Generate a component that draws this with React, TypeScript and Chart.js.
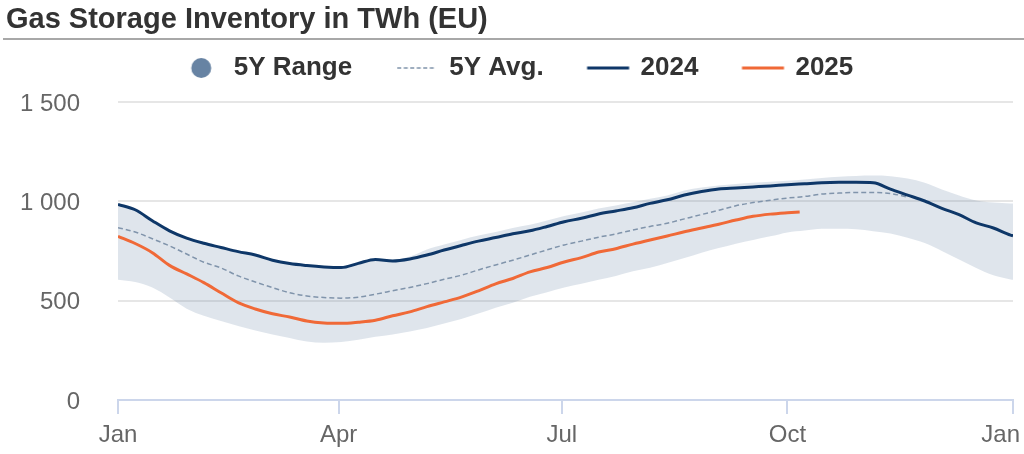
import { useEffect, useRef } from 'react';
import { Chart, registerables } from 'chart.js';

Chart.register(...registerables);

const FONT = '"Liberation Sans", Arial, Helvetica, sans-serif';

const TITLE = 'Gas Storage Inventory in TWh (EU)';
const LEGEND_NAMES = ['5Y Range', '5Y Avg.', '2024', '2025'];

const X_TICK_DAYS = [0, 90, 181, 273, 365];
const X_TICK_LABELS = ['Jan', 'Apr', 'Jul', 'Oct', 'Jan'];
const Y_TICKS = [0, 500, 1000, 1500];
const Y_MAX = 1556;

// day of year
const FULL_DAYS = [0, 7, 14, 21, 28, 35, 42, 49, 56, 63, 70, 77, 84, 91, 98, 105, 112, 119, 126, 133, 140, 147, 154, 161, 168, 175, 182, 189, 196, 203, 210, 217, 224, 231, 238, 245, 252, 259, 266, 273, 280, 287, 294, 301, 308, 315, 322, 329, 336, 343, 350, 357, 364, 365];

const RANGE_LOW = [605, 594, 566, 516, 460, 424, 398, 373, 350, 330, 312, 294, 288, 292, 304, 318, 330, 345, 362, 385, 408, 435, 465, 490, 520, 543, 566, 585, 605, 625, 648, 666, 690, 715, 742, 765, 787, 806, 824, 844, 853, 862, 862, 860, 850, 838, 817, 790, 750, 708, 665, 628, 607, 605];

const RANGE_HIGH = [990, 962, 908, 857, 820, 794, 773, 752, 735, 709, 692, 682, 675, 672, 692, 712, 706, 722, 758, 783, 806, 828, 846, 866, 882, 904, 926, 944, 964, 980, 996, 1014, 1030, 1055, 1070, 1080, 1088, 1094, 1099, 1104, 1110, 1118, 1124, 1128, 1130, 1127, 1115, 1094, 1060, 1030, 1004, 994, 990, 990];

const VALUES_2024 = [985, 958, 903, 852, 815, 789, 768, 747, 730, 704, 687, 677, 670, 667, 688, 708, 700, 710, 730, 755, 778, 800, 818, 837, 852, 874, 898, 915, 937, 952, 968, 990, 1008, 1032, 1050, 1063, 1068, 1073, 1078, 1084, 1089, 1094, 1096, 1096, 1094, 1062, 1032, 1002, 965, 933, 892, 866, 830, 827];

const AVG_DAYS = [0, 7, 14, 21, 28, 35, 42, 49, 56, 63, 70, 77, 84, 91, 98, 105, 112, 119, 126, 133, 140, 147, 154, 161, 168, 175, 182, 189, 196, 203, 210, 217, 224, 231, 238, 245, 252, 259, 266, 273, 280, 287, 294, 301, 308, 315, 322];

const AVG_5Y = [868, 846, 812, 776, 735, 694, 665, 625, 594, 566, 540, 524, 516, 513, 518, 533, 550, 567, 586, 608, 628, 655, 680, 704, 730, 756, 781, 800, 820, 836, 856, 874, 890, 912, 934, 955, 978, 994, 1006, 1017, 1025, 1037, 1042, 1045, 1045, 1040, 1022];

const DAYS_2025 = [0, 7, 14, 21, 28, 35, 42, 49, 56, 63, 70, 77, 84, 91, 98, 105, 112, 119, 126, 133, 140, 147, 154, 161, 168, 175, 182, 189, 196, 203, 210, 217, 224, 231, 238, 245, 252, 259, 266, 273, 278];

const VALUES_2025 = [824, 788, 742, 678, 635, 591, 540, 490, 458, 434, 418, 398, 388, 386, 392, 402, 424, 444, 470, 494, 518, 550, 585, 612, 645, 667, 695, 717, 745, 762, 785, 806, 826, 847, 866, 885, 906, 925, 936, 943, 947];

const COLOR_2024 = '#0e3768';
const COLOR_2025 = '#f06937';
const COLOR_AVG = '#8094ab';
const COLOR_RANGE = '#6783a3';
const BAND_FILL = 'rgba(93,124,160,0.2)';

type Sym = 'circle' | 'dash' | 'line2024' | 'line2025';

function makeSymbol(kind: Sym): HTMLCanvasElement {
  const c = document.createElement('canvas');
  c.width = 70;
  c.height = 26;
  const ctx = c.getContext('2d')!;
  const cx = 40.5;
  const cy = 13;
  if (kind === 'circle') {
    ctx.fillStyle = COLOR_RANGE;
    ctx.beginPath();
    ctx.arc(cx, cy, 10, 0, Math.PI * 2);
    ctx.fill();
  } else {
    ctx.beginPath();
    if (kind === 'dash') {
      ctx.strokeStyle = COLOR_AVG;
      ctx.lineWidth = 1.5;
      ctx.setLineDash([4, 2.5]);
      ctx.moveTo(cx - 19.5, cy);
      ctx.lineTo(cx + 19.5, cy);
    } else {
      ctx.strokeStyle = kind === 'line2024' ? COLOR_2024 : COLOR_2025;
      ctx.lineWidth = 3;
      ctx.moveTo(cx - 21, cy);
      ctx.lineTo(cx + 21, cy);
    }
    ctx.stroke();
  }
  return c;
}

function fmtThousands(v: number): string {
  return String(v).replace(/\B(?=(\d{3})+(?!\d))/g, ' ');
}

function pts(xs: number[], ys: number[]) {
  return ys.map((y, i) => ({ x: xs[i], y }));
}

const titlePlugin = {
  id: 'titleUnderline',
  afterDraw(chart: any) {
    const ctx = chart.ctx;
    ctx.save();
    ctx.font = `bold 29px ${FONT}`;
    ctx.fillStyle = '#333333';
    ctx.textBaseline = 'middle';
    ctx.textAlign = 'left';
    ctx.fillText(TITLE, 6, 20);
    ctx.strokeStyle = '#a8a8a8';
    ctx.lineWidth = 2;
    ctx.beginPath();
    ctx.moveTo(3, 39);
    ctx.lineTo(chart.width, 39);
    ctx.stroke();
    ctx.restore();
  },
};

const justifyLastLabel = {
  id: 'justifyLastLabel',
  beforeDraw(chart: any) {
    const sc = chart.scales.x;
    if (!sc || !sc.getLabelItems) return;
    const items = sc.getLabelItems(chart.chartArea);
    const last = items[items.length - 1];
    if (!last) return;
    const ctx = chart.ctx;
    ctx.save();
    ctx.font = `24px ${FONT}`;
    const hw = ctx.measureText(String(last.label)).width / 2;
    ctx.restore();
    const [tx, ty] = last.options.translation;
    last.options.translation = [Math.min(tx, chart.width - 4 - hw), ty];
  },
};

export default function App() {
  const ref = useRef<HTMLCanvasElement>(null);

  useEffect(() => {
    document.body.style.margin = '0';
    const canvas = ref.current;
    if (!canvas) return;

    const symbols = [
      makeSymbol('circle'),
      makeSymbol('dash'),
      makeSymbol('line2024'),
      makeSymbol('line2025'),
    ];
    const legendItems = LEGEND_NAMES.map((text, i) => ({
      text,
      pointStyle: symbols[i],
      datasetIndex: [1, 2, 3, 4][i],
      hidden: false,
      fontColor: '#333333',
      fillStyle: 'transparent',
      strokeStyle: 'transparent',
      lineWidth: 0,
    }));

    const chart = new Chart(canvas, {
      type: 'line',
      data: {
        datasets: [
          {
            label: '5Y Range low',
            data: pts(FULL_DAYS, RANGE_LOW),
            borderColor: 'transparent',
            backgroundColor: 'transparent',
            borderWidth: 0,
            pointRadius: 0,
            fill: false,
            cubicInterpolationMode: 'monotone',
            order: 5,
          },
          {
            label: '5Y Range',
            data: pts(FULL_DAYS, RANGE_HIGH),
            borderColor: 'transparent',
            backgroundColor: BAND_FILL,
            borderWidth: 0,
            pointRadius: 0,
            fill: '-1',
            cubicInterpolationMode: 'monotone',
            order: 4,
          },
          {
            label: '5Y Avg.',
            data: pts(AVG_DAYS, AVG_5Y),
            borderColor: COLOR_AVG,
            borderWidth: 1.5,
            borderDash: [5, 3],
            pointRadius: 0,
            fill: false,
            cubicInterpolationMode: 'monotone',
            order: 3,
          },
          {
            label: '2024',
            data: pts(FULL_DAYS, VALUES_2024),
            borderColor: COLOR_2024,
            borderWidth: 3,
            pointRadius: 0,
            fill: false,
            cubicInterpolationMode: 'monotone',
            order: 2,
          },
          {
            label: '2025',
            data: pts(DAYS_2025, VALUES_2025),
            borderColor: COLOR_2025,
            borderWidth: 3,
            pointRadius: 0,
            fill: false,
            cubicInterpolationMode: 'monotone',
            order: 1,
          },
        ],
      },
      options: {
        animation: false,
        responsive: true,
        maintainAspectRatio: false,
        events: [],
        layout: { padding: { top: 21 } },
        plugins: {
          title: { display: false },
          tooltip: { enabled: false },
          legend: {
            display: true,
            position: 'top',
            align: 'center',
            labels: {
              usePointStyle: true,
              pointStyleWidth: 50,
              padding: 34,
              color: '#333333',
              font: { size: 26, weight: 'bold', family: FONT },
              generateLabels: () => legendItems as any,
            },
          },
        },
        scales: {
          x: {
            type: 'linear',
            min: 0,
            max: 365,
            afterBuildTicks: (s: any) => {
              s.ticks = X_TICK_DAYS.map((v) => ({ value: v }));
            },
            ticks: {
              autoSkip: false,
              maxRotation: 0,
              padding: 7,
              color: '#666666',
              font: { size: 24, family: FONT },
              callback: (_v: any, i: number) => X_TICK_LABELS[i] ?? '',
            },
            grid: {
              drawOnChartArea: false,
              drawTicks: true,
              tickLength: 14,
              color: '#ccd6eb',
              lineWidth: 2,
            },
            border: { display: true, color: '#ccd6eb', width: 2 },
            afterFit: (s: any) => {
              s.height = 54;
              s.paddingRight = 11;
            },
          },
          y: {
            min: 0,
            max: Y_MAX,
            afterBuildTicks: (s: any) => {
              s.ticks = Y_TICKS.map((v) => ({ value: v }));
            },
            ticks: {
              padding: 38,
              labelOffset: 2,
              color: '#666666',
              font: { size: 24, family: FONT },
              callback: (v: any) => fmtThousands(Number(v)),
            },
            grid: {
              drawTicks: false,
              lineWidth: 2,
              color: (c: any) => (c.tick && c.tick.value === 0 ? 'transparent' : '#e6e6e6'),
            },
            border: { display: false },
            afterFit: (s: any) => {
              s.width = 118;
            },
          },
        },
      },
      plugins: [titlePlugin, justifyLastLabel],
    } as any);

    return () => chart.destroy();
  }, []);

  return (
    <div style={{ position: 'relative', width: 1024, height: 454 }}>
      <canvas ref={ref} />
    </div>
  );
}
